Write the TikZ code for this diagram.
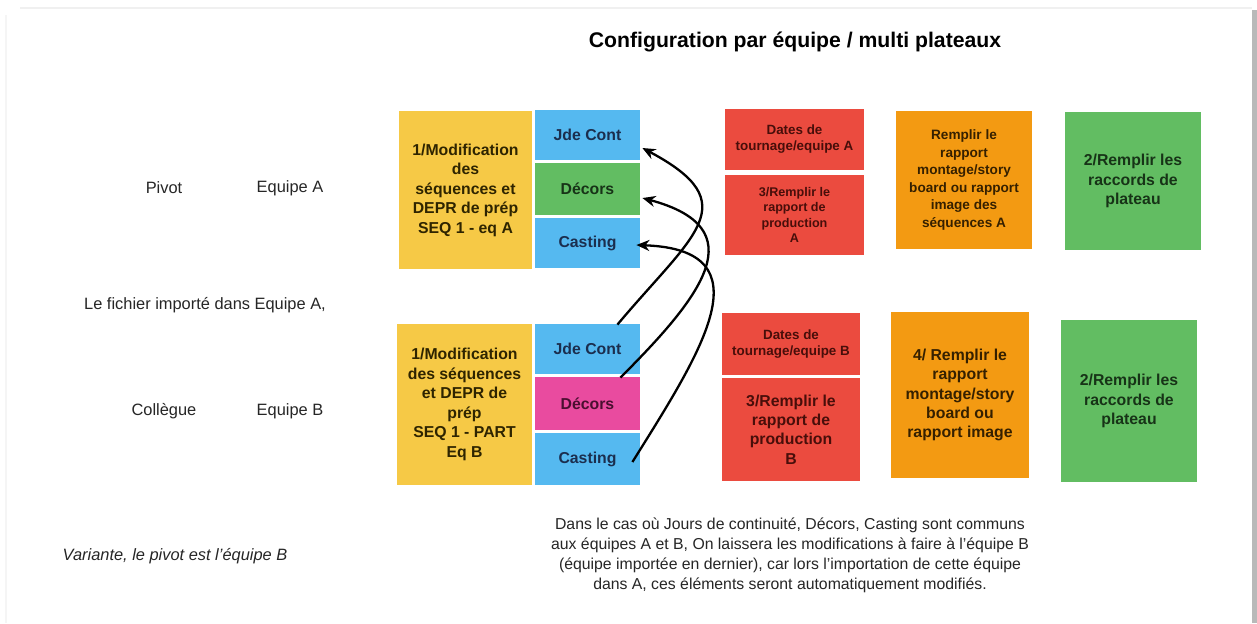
\documentclass[tikz,border=0pt]{standalone}
\usepackage{fontspec}
\setmainfont{Liberation Sans}
\usetikzlibrary{arrows.meta,calc}
\definecolor{cyel}{HTML}{F6C946}
\definecolor{cblue}{HTML}{55B9F0}
\definecolor{cgreen}{HTML}{62BD62}
\definecolor{cpink}{HTML}{E94B9F}
\definecolor{cred}{HTML}{EB4B3F}
\definecolor{corange}{HTML}{F39A12}
\definecolor{tyel}{HTML}{2E2400}
\definecolor{tblue}{HTML}{1B2E4E}
\definecolor{tgreen}{HTML}{173317}
\definecolor{tpink}{HTML}{4A0F30}
\definecolor{tred}{HTML}{480E0A}
\definecolor{torange}{HTML}{352000}
\newcommand{\fsz}[2]{\fontsize{#1pt}{#2pt}\selectfont}
\tikzset{
  box/.style 2 args={rectangle, inner sep=0pt, align=center, font=\bfseries\fsz{7.9}{9.75},
    minimum width=#1*0.5pt, minimum height=#2*0.5pt},
  lbl/.style={inner sep=0pt, font=\fsz{8.2}{10}, text=black!85},
  arr/.style={line width=1.15pt, -{Stealth[length=6.5pt,width=5.5pt]}, black}
}
\begin{document}
\begin{tikzpicture}[x=0.5pt,y=0.5pt]
\useasboundingbox (0,0) rectangle (1257,-623);
\fill[white] (0,0) rectangle (1257,-623);
% frame shadow
\draw[gray!12, line width=1pt] (20,-8) -- (1252,-8);
\draw[gray!8, line width=1pt] (6,-15) -- (6,-623);
\fill[gray!55] (1252,-10) rectangle (1257,-623);
% title
\node[inner sep=0pt, font=\bfseries\fsz{10.6}{12}] (title) at (795,-42) {Configuration par équipe / multi plateaux};
% left labels
\node[lbl] (pivot) at (164,-188) {Pivot};
\node[lbl] (eqA) at (290,-188) {Equipe A};
\node[lbl] (fich) at (205,-305) {Le fichier importé dans Equipe A,};
\node[lbl] (coll) at (164,-411) {Collègue};
\node[lbl] (eqB) at (290,-411) {Equipe B};
\node[lbl, font=\itshape\fsz{8.2}{10}] (var) at (175,-556) {Variante, le pivot est l’équipe B};
% top row
\node[box={133}{158}, fill=cyel, text=tyel] (tY) at (465.5,-190) {1/Modification\\des\\séquences et\\DEPR de prép\\SEQ 1 - eq A};
\node[box={105}{50}, fill=cblue, text=tblue] (tJ) at (587.5,-135) {Jde Cont};
\node[box={105}{52}, fill=cgreen, text=tgreen] (tD) at (587.5,-189) {Décors};
\node[box={105}{50}, fill=cblue, text=tblue] (tC) at (587.5,-243) {Casting};
\node[box={139}{61}, fill=cred, text=tred, font=\bfseries\fsz{6.7}{8}] (rDa) at (794.5,-139.5) {Dates de\\tournage/equipe A};
\node[box={139}{80}, fill=cred, text=tred, font=\bfseries\fsz{6.3}{7.6}] (rPa) at (794.5,-215) {3/Remplir le\\rapport de\\production\\A};
\node[box={136}{138}, fill=corange, text=torange, font=\bfseries\fsz{6.8}{8.75}] (oA) at (964,-180) {Remplir le\\rapport\\montage/story\\board ou rapport\\image des\\séquences A};
\node[box={136}{138}, fill=cgreen, text=tgreen] (gA) at (1133,-181) {2/Remplir les\\raccords de\\plateau};
% bottom row
\node[box={135}{161}, fill=cyel, text=tyel] (bY) at (464.5,-404.5) {1/Modification\\des séquences\\et DEPR de\\prép\\SEQ 1 - PART\\Eq B};
\node[box={105}{50}, fill=cblue, text=tblue] (bJ) at (587.5,-349) {Jde Cont};
\node[box={105}{53}, fill=cpink, text=tpink] (bD) at (587.5,-403.5) {Décors};
\node[box={105}{52}, fill=cblue, text=tblue] (bC) at (587.5,-459) {Casting};
\node[box={138}{62}, fill=cred, text=tred, font=\bfseries\fsz{6.7}{8}] (rDb) at (791,-344) {Dates de\\tournage/equipe B};
\node[box={138}{103}, fill=cred, text=tred, font=\bfseries\fsz{7.9}{9.6}] (rPb) at (791,-429.5) {3/Remplir le\\rapport de\\production\\B};
\node[box={138}{166}, fill=corange, text=torange, font=\bfseries\fsz{7.9}{9.65}] (oB) at (960,-395) {4/ Remplir le\\rapport\\montage/story\\board ou\\rapport image};
\node[box={136}{162}, fill=cgreen, text=tgreen] (gB) at (1129,-401) {2/Remplir les\\raccords de\\plateau};
% arrows
\draw[arr] ($(bJ.north east)+(-23,-1)$) to[out=50,in=-28,looseness=1.7] ($(tJ.east)+(2,-13)$);
\draw[arr] ($(bD.north east)+(-20,-1)$) to[out=45,in=-15,looseness=1.65] ($(tD.east)+(2,-9)$);
\draw[arr] ($(bC.east)+(-8,-3)$) to[out=58,in=-2,looseness=1.55] ($(tC.east)+(-4,-2)$);
% bottom paragraph
\node[inner sep=0pt, align=center, font=\fsz{7.9}{10}, text=black!85] (para) at (790,-555) {Dans le cas où Jours de continuité, Décors, Casting sont communs\\aux équipes A et B, On laissera les modifications à faire à l’équipe B\\(équipe importée en dernier), car lors l’importation de cette équipe\\dans A, ces éléments seront automatiquement modifiés.};
\end{tikzpicture}
\end{document}
